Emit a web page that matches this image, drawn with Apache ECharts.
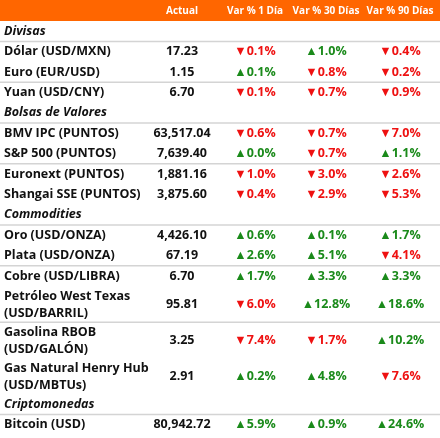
<!DOCTYPE html><html><head><meta charset="utf-8"><script src="https://cdn.jsdelivr.net/npm/echarts@6/dist/echarts.min.js"></script></head><body style="margin:0"><div id="c" style="width:440px;height:438px"></div><script>
const headers=["Actual","Var % 1 Día","Var % 30 Días","Var % 90 Días"];
const sections=["Divisas","Bolsas de Valores","Commodities","Criptomonedas"];
const labels=[["Dólar (USD/MXN)"],["Euro (EUR/USD)"],["Yuan (USD/CNY)"],["BMV IPC (PUNTOS)"],["S&P 500 (PUNTOS)"],["Euronext (PUNTOS)"],["Shangai SSE (PUNTOS)"],["Oro (USD/ONZA)"],["Plata (USD/ONZA)"],["Cobre (USD/LIBRA)"],["Petróleo West Texas","(USD/BARRIL)"],["Gasolina RBOB","(USD/GALÓN)"],["Gas Natural Henry Hub","(USD/MBTUs)"],["Bitcoin (USD)"]];
const rowSection=[0,0,0,1,1,1,1,2,2,2,2,2,2,3];
const actual=["17.23","1.15","6.70","63,517.04","7,639.40","1,881.16","3,875.60","4,426.10","67.19","6.70","95.81","3.25","2.91","80,942.72"];
const var1=[-0.1,0.1,-0.1,-0.6,0.0,-1.0,-0.4,0.6,2.6,1.7,-6.0,-7.4,0.2,5.9];
const var30=[1.0,-0.8,-0.7,-0.7,-0.7,-3.0,-2.9,0.1,5.1,3.3,12.8,-1.7,4.8,0.9];
const var90=[-0.4,-0.2,-0.9,-7.0,1.1,-2.6,-5.3,1.7,-4.1,3.3,18.6,10.2,-7.6,24.6];
const zeroUp=[4];
const colX=[182,255,326,400];
const F='"Open Sans","Noto Sans",sans-serif';
const RH=20.4;
const g=[];
g.push({type:'rect',shape:{x:0,y:0,width:440,height:21},style:{fill:'#FF6600'}});
headers.forEach((h,i)=>g.push({type:'text',x:colX[i],y:11,style:{text:h,fill:'#fff',font:'bold 10px '+F,align:'center',verticalAlign:'middle'}}));
let y=21,prevSec=-1,k=0;
function line(yy){g.push({type:'line',shape:{x1:0,y1:yy,x2:440,y2:yy},style:{stroke:'#d4d4d4',lineWidth:1.5}});}
labels.forEach((lab,r)=>{
 if(rowSection[r]!==prevSec){prevSec=rowSection[r];
  g.push({type:'text',x:4,y:y+RH/2,style:{text:sections[prevSec],fill:'#111',font:'italic bold 12.5px '+F,verticalAlign:'middle'}});
  y+=RH;line(y);k=0;}
 const h=lab.length>1?36:RH;const cy=y+h/2;
 if(lab.length>1){g.push({type:'text',x:4,y:cy-8,style:{text:lab[0],fill:'#111',font:'bold 12.5px '+F,verticalAlign:'middle'}});
  g.push({type:'text',x:4,y:cy+9,style:{text:lab[1],fill:'#111',font:'bold 12.5px '+F,verticalAlign:'middle'}});}
 else g.push({type:'text',x:4,y:cy,style:{text:lab[0],fill:'#111',font:'bold 12.5px '+F,verticalAlign:'middle'}});
 g.push({type:'text',x:colX[0],y:cy,style:{text:actual[r],fill:'#111',font:'bold 12.5px '+F,align:'center',verticalAlign:'middle'}});
 [var1,var30,var90].forEach((arr,j)=>{const v=arr[r];const up=v>0||(v===0&&zeroUp.includes(r));
  g.push({type:'text',x:colX[j+1],y:cy,style:{text:(up?'▲':'▼')+Math.abs(v).toFixed(1)+'%',fill:up?'#1a8a1a':'#ee1111',font:'bold 12.5px '+F,align:'center',verticalAlign:'middle'}});});
 y+=h;k++;
 const next=rowSection[r+1];
 if(r<labels.length-1&&next===rowSection[r]&&k%2===0)line(y);
});
const ch=echarts.init(document.getElementById('c'));
ch.setOption({backgroundColor:'#fff',graphic:g});
</script></body></html>
